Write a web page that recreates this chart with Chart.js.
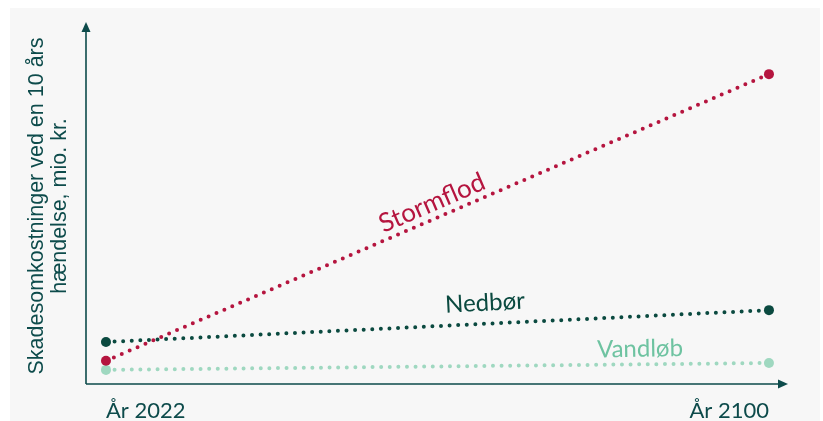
<!DOCTYPE html>
<html>
<head>
<meta charset="utf-8">
<script src="https://cdn.jsdelivr.net/npm/chart.js@4"></script>
<style>
  html, body { margin: 0; padding: 0; background: #ffffff; }
  #wrap { width: 823px; height: 421px; }
</style>
</head>
<body>
<div id="wrap"><canvas id="chart" width="823" height="421"></canvas></div>
<script>
// Data
const years = [2022, 2100];
const stormflod = [6.4, 85.6];
const nedboer = [11.6, 20.4];
const vandloeb = [3.9, 5.8];
const seriesNames = ['Stormflod', 'Nedbør', 'Vandløb'];
const yTitle = ['Skadesomkostninger ved en 10 års', 'hændelse, mio. kr.'];

const axisColor = '#0d4b4b';
const colors = ['#b5153f', '#0b4a40', '#9fd8c0'];
const labelColors = ['#b5153f', '#0b4a40', '#6ec3a1'];

function toPoints(vals) {
    return vals.map((v, i) => ({ x: years[i], y: v }));
}

function makeSet(name, vals, color) {
    return {
        label: name,
        data: toPoints(vals),
        borderColor: color,
        backgroundColor: color,
        borderWidth: 4,
        borderDash: [0, 8.6],
        borderCapStyle: 'round',
        pointRadius: 5,
        pointBorderWidth: 0,
        pointHoverRadius: 5,
        tension: 0
    };
}

// Baggrund, akser med pile og tekster
const decor = {
    id: 'decor',
    beforeDraw(chart) {
        const ctx = chart.ctx;
        ctx.save();
        ctx.fillStyle = '#ffffff';
        ctx.fillRect(0, 0, chart.width, chart.height);
        ctx.fillStyle = '#f7f7f7';
        ctx.fillRect(10, 8, 810, 413);
        ctx.restore();
    },
    afterDraw(chart) {
        const ctx = chart.ctx;
        const a = chart.chartArea;
        const x0 = a.left, y0 = a.bottom;
        ctx.save();
        ctx.strokeStyle = axisColor;
        ctx.fillStyle = axisColor;
        ctx.lineWidth = 1.6;
        ctx.beginPath();
        ctx.moveTo(x0, y0);
        ctx.lineTo(x0, a.top + 8);
        ctx.moveTo(x0, y0);
        ctx.lineTo(a.right - 8, y0);
        ctx.stroke();
        // pile
        ctx.beginPath();
        ctx.moveTo(x0, a.top);
        ctx.lineTo(x0 - 4.5, a.top + 10);
        ctx.lineTo(x0 + 4.5, a.top + 10);
        ctx.closePath();
        ctx.fill();
        ctx.beginPath();
        ctx.moveTo(a.right, y0);
        ctx.lineTo(a.right - 10, y0 - 4.5);
        ctx.lineTo(a.right - 10, y0 + 4.5);
        ctx.closePath();
        ctx.fill();

        // y-akse titel
        ctx.font = '21.5px "Liberation Sans", Arial, sans-serif';
        ctx.textAlign = 'center';
        ctx.textBaseline = 'middle';
        ctx.translate(37, 206);
        ctx.rotate(-Math.PI / 2);
        ctx.fillText(yTitle[0], 0, 0);
        ctx.fillText(yTitle[1], 0, 23);
        ctx.restore();

        // serie-navne
        const lbl = [
            { x: 432, y: 203, rot: -23.4, size: 26 },
            { x: 485, y: 303, rot: -3, size: 24 },
            { x: 640, y: 349, rot: -1, size: 24 }
        ];
        lbl.forEach((l, i) => {
            ctx.save();
            ctx.translate(l.x, l.y);
            ctx.rotate(l.rot * Math.PI / 180);
            ctx.font = l.size + 'px Lato, sans-serif';
            ctx.fillStyle = labelColors[i];
            ctx.textAlign = 'center';
            ctx.textBaseline = 'middle';
            ctx.fillText(seriesNames[i], 0, 0);
            ctx.restore();
        });
    }
};

new Chart(document.getElementById('chart'), {
    type: 'line',
    data: {
        datasets: [
            makeSet(seriesNames[0], stormflod, colors[0]),
            makeSet(seriesNames[1], nedboer, colors[1]),
            makeSet(seriesNames[2], vandloeb, colors[2])
        ]
    },
    options: {
        responsive: false,
        animation: false,
        events: [],
        layout: { padding: { top: 22, right: 35, left: 0, bottom: 0 } },
        plugins: { legend: { display: false }, tooltip: { enabled: false } },
        scales: {
            x: {
                type: 'linear',
                min: 2019.65,
                max: 2102.24,
                afterFit: s => { s.height = 37; },
                afterBuildTicks: s => { s.ticks = years.map(v => ({ value: v })); },
                grid: { display: false },
                border: { display: false },
                ticks: {
                    align: 'inner',
                    padding: 6,
                    color: axisColor,
                    font: { family: 'Lato', size: 22 },
                    callback: v => 'År ' + v,
                    maxRotation: 0
                }
            },
            y: {
                min: 0,
                max: 100,
                afterFit: s => { s.width = 86; },
                grid: { display: false },
                border: { display: false },
                ticks: { display: false }
            }
        }
    },
    plugins: [decor]
});
</script>
</body>
</html>
